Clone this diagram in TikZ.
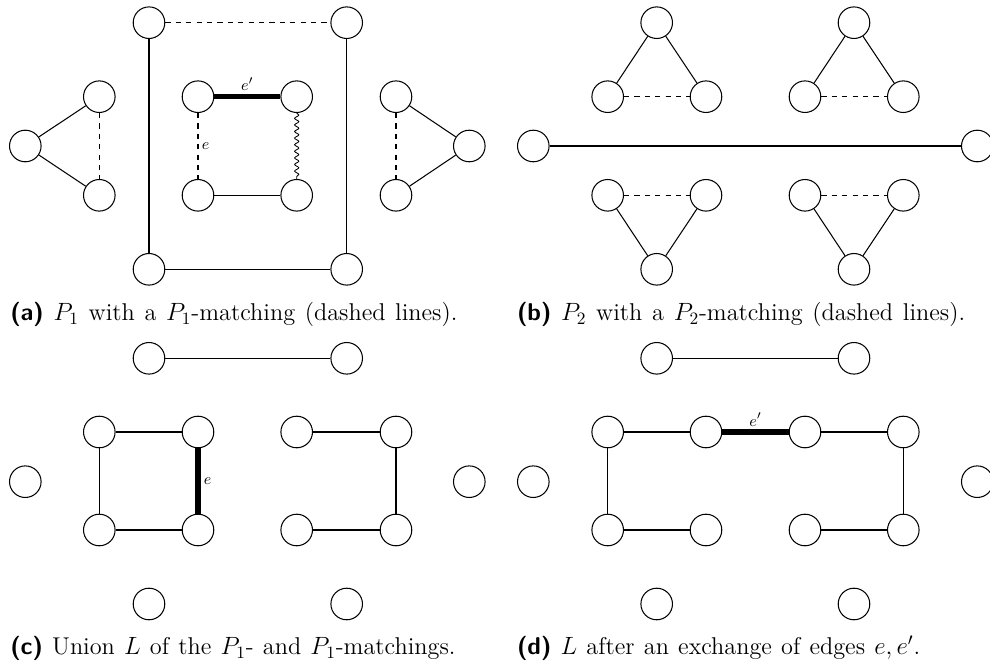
\documentclass[tikz,border=0pt]{standalone}
\usetikzlibrary{decorations.pathmorphing}
\begin{document}
\begin{tikzpicture}[x=0.02027cm,y=-0.02027cm,
  vtx/.style={circle,draw,minimum size=0.64cm,inner sep=0pt,line width=0.6pt},
  edg/.style={line width=0.6pt},
  mdash/.style={line width=0.6pt,dashed},
  heavy/.style={line width=2.9pt},
  wavy/.style={line width=0.5pt,decorate,decoration={snake,amplitude=1.2pt,segment length=3.8pt}},
  elab/.style={font=\fontsize{9.4}{10}\selectfont,inner sep=2pt},
  captxt/.style={anchor=base west,inner sep=0pt,font=\fontsize{14}{16}\selectfont}]
\useasboundingbox (0,0) rectangle (990,667);
% ---------- (a)
\node[vtx] (a1) at (149,22.7) {};
\node[vtx] (a2) at (346.7,22.7) {};
\node[vtx] (a3) at (149,269.3) {};
\node[vtx] (a4) at (346.7,269.3) {};
\node[vtx] (a5) at (198,96.7) {};
\node[vtx] (a6) at (296.7,96.7) {};
\node[vtx] (a7) at (198,195.3) {};
\node[vtx] (a8) at (296.7,195.3) {};
\node[vtx] (la) at (25.3,146) {};
\node[vtx] (lt) at (99.3,96.7) {};
\node[vtx] (lb) at (99.3,195.3) {};
\node[vtx] (rt) at (396,96.7) {};
\node[vtx] (rb) at (396,195.3) {};
\node[vtx] (ra) at (469.3,146) {};
\draw[mdash] (a1) -- (a2);
\draw[edg] (a1) -- (a3);
\draw[edg] (a2) -- (a4);
\draw[edg] (a3) -- (a4);
\draw[heavy] (a5) -- node[elab,above] {$e'$} (a6);
\draw[mdash] (a5) -- node[elab,right] {$e$} (a7);
\draw[wavy] (a6) -- (a8);
\draw[edg] (a7) -- (a8);
\draw[edg] (la) -- (lt);
\draw[edg] (la) -- (lb);
\draw[mdash] (lt) -- (lb);
\draw[mdash] (rt) -- (rb);
\draw[edg] (rt) -- (ra);
\draw[edg] (rb) -- (ra);
% ---------- (b)
\node[vtx] (b1) at (656.7,22.7) {};
\node[vtx] (b2) at (607.7,96.7) {};
\node[vtx] (b3) at (706,96.7) {};
\node[vtx] (b4) at (854,22.7) {};
\node[vtx] (b5) at (805,96.7) {};
\node[vtx] (b6) at (903.3,96.7) {};
\node[vtx] (b7) at (533.3,146) {};
\node[vtx] (b8) at (977.3,146) {};
\node[vtx] (b9) at (607.7,195.3) {};
\node[vtx] (b10) at (706,195.3) {};
\node[vtx] (b11) at (656.7,269.3) {};
\node[vtx] (b12) at (805,195.3) {};
\node[vtx] (b13) at (903.3,195.3) {};
\node[vtx] (b14) at (854,269.3) {};
\draw[edg] (b1) -- (b2);
\draw[edg] (b1) -- (b3);
\draw[mdash] (b2) -- (b3);
\draw[edg] (b4) -- (b5);
\draw[edg] (b4) -- (b6);
\draw[mdash] (b5) -- (b6);
\draw[edg] (b7) -- (b8);
\draw[mdash] (b9) -- (b10);
\draw[edg] (b9) -- (b11);
\draw[edg] (b10) -- (b11);
\draw[mdash] (b12) -- (b13);
\draw[edg] (b12) -- (b14);
\draw[edg] (b13) -- (b14);
% ---------- (c)
\node[vtx] (c1) at (149,358.3) {};
\node[vtx] (c2) at (346.7,358.3) {};
\node[vtx] (c3) at (99.3,432) {};
\node[vtx] (c4) at (198,432) {};
\node[vtx] (c5) at (99.3,530) {};
\node[vtx] (c6) at (198,530) {};
\node[vtx] (c7) at (296.7,432) {};
\node[vtx] (c8) at (396,432) {};
\node[vtx] (c9) at (296.7,530) {};
\node[vtx] (c10) at (396,530) {};
\node[vtx] (c11) at (25.3,481.7) {};
\node[vtx] (c12) at (469.3,481.7) {};
\node[vtx] (c13) at (149,604) {};
\node[vtx] (c14) at (346.7,604) {};
\draw[edg] (c1) -- (c2);
\draw[edg] (c3) -- (c4);
\draw[edg] (c3) -- (c5);
\draw[edg] (c5) -- (c6);
\draw[heavy] (c4) -- node[elab,right] {$e$} (c6);
\draw[edg] (c7) -- (c8);
\draw[edg] (c8) -- (c10);
\draw[edg] (c9) -- (c10);
% ---------- (d)
\node[vtx] (d1) at (656.7,358.3) {};
\node[vtx] (d2) at (854,358.3) {};
\node[vtx] (d3) at (607.7,432) {};
\node[vtx] (d4) at (706,432) {};
\node[vtx] (d5) at (805,432) {};
\node[vtx] (d6) at (903.3,432) {};
\node[vtx] (d7) at (607.7,530) {};
\node[vtx] (d8) at (706,530) {};
\node[vtx] (d9) at (805,530) {};
\node[vtx] (d10) at (903.3,530) {};
\node[vtx] (d11) at (533.3,481.7) {};
\node[vtx] (d12) at (977.3,481.7) {};
\node[vtx] (d13) at (656.7,604) {};
\node[vtx] (d14) at (854,604) {};
\draw[edg] (d1) -- (d2);
\draw[edg] (d3) -- (d4);
\draw[heavy] (d4) -- node[elab,above] {$e'$} (d5);
\draw[edg] (d5) -- (d6);
\draw[edg] (d3) -- (d7);
\draw[edg] (d6) -- (d10);
\draw[edg] (d7) -- (d8);
\draw[edg] (d9) -- (d10);
% ---------- captions
\node[captxt] (capa) at (10,321) {\makebox[9.06cm][s]{{\sffamily\bfseries (a)} $P_1$ with a $P_1$-matching (dashed lines).}};
\node[captxt] (capb) at (516.7,321) {\makebox[9.08cm][s]{{\sffamily\bfseries (b)} $P_2$ with a $P_2$-matching (dashed lines).}};
\node[captxt] (capc) at (10,655) {\makebox[9.02cm][s]{{\sffamily\bfseries (c)} Union $L$ of the $P_1$- and $P_1$-matchings.}};
\node[captxt] (capd) at (516.7,655) {\makebox[8.17cm][s]{{\sffamily\bfseries (d)} $L$ after an exchange of edges $e,e'$.}};
\end{tikzpicture}
\end{document}
